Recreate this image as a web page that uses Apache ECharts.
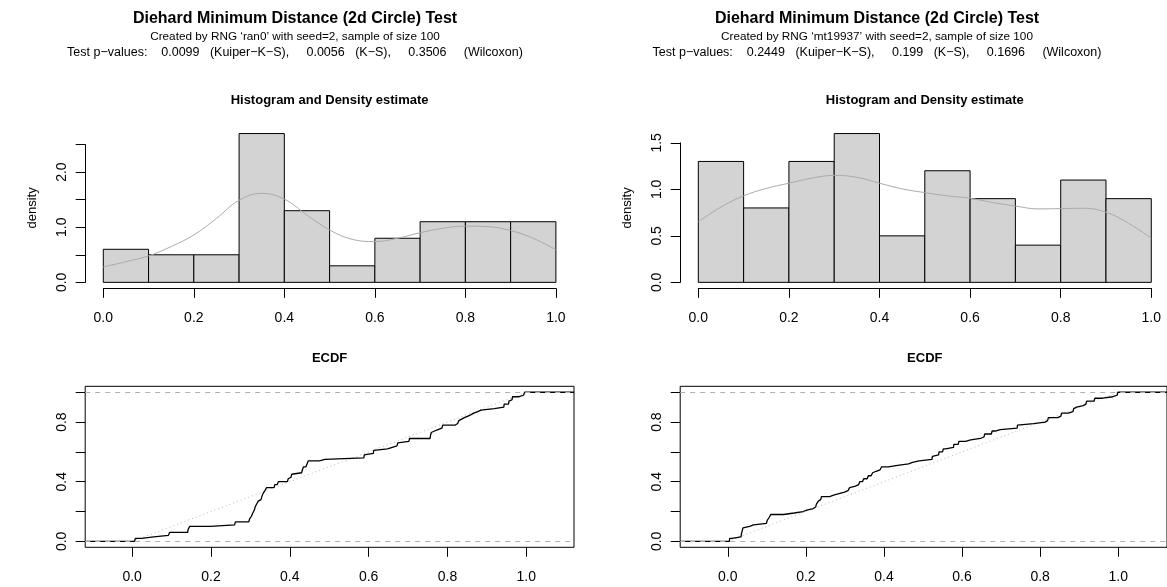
<!DOCTYPE html>
<html><head><meta charset="utf-8">
<script src="https://cdn.jsdelivr.net/npm/echarts@6/dist/echarts.min.js"></script>
<style>html,body{margin:0;padding:0;background:#fff}#c{width:1167px;height:587px}</style>
</head><body><div id="c"></div>
<script>
// ---------------- data ----------------
const binEdges = [0, 0.1, 0.2, 0.3, 0.4, 0.5, 0.6, 0.7, 0.8, 0.9, 1.0];
const histLeft = [0.6, 0.5, 0.5, 2.7, 1.3, 0.3, 0.8, 1.1, 1.1, 1.1];
const histRight = [1.3, 0.8, 1.3, 1.6, 0.5, 1.2, 0.9, 0.4, 1.1, 0.9];
const densityX = [0, 0.05, 0.1, 0.15, 0.2, 0.25, 0.3, 0.35, 0.4, 0.45, 0.5, 0.55, 0.6, 0.65, 0.7, 0.75, 0.8, 0.85, 0.9, 0.95, 1.0];
const densityLeft = [0.28, 0.375, 0.48, 0.65, 0.86, 1.16, 1.49, 1.615, 1.51, 1.22, 0.95, 0.78, 0.74, 0.80, 0.90, 0.98, 1.02, 1.01, 0.94, 0.80, 0.59];
const densityRight = [0.65, 0.81, 0.93, 1.01, 1.066, 1.12, 1.15, 1.13, 1.066, 1.005, 0.965, 0.93, 0.904, 0.858, 0.82, 0.79, 0.793, 0.797, 0.754, 0.635, 0.474];
const sampleLeft = [
  0.006, 0.008, 0.024, 0.055, 0.092, 0.095,
  0.141, 0.142, 0.144, 0.146, 0.199,
  0.260, 0.262, 0.296, 0.298, 0.299,
  0.303, 0.305, 0.306, 0.308, 0.310, 0.311, 0.312, 0.314, 0.316, 0.318, 0.320, 0.325,
  0.327, 0.329, 0.330, 0.332, 0.333, 0.337, 0.339, 0.341, 0.360, 0.362, 0.368, 0.371,
  0.394, 0.396, 0.398,
  0.403, 0.405, 0.406, 0.430, 0.432, 0.434, 0.435, 0.441, 0.444, 0.446, 0.447, 0.475, 0.489,
  0.588, 0.589, 0.590,
  0.612, 0.613, 0.614, 0.648, 0.660, 0.672, 0.674, 0.675,
  0.702, 0.704, 0.756, 0.757, 0.758, 0.759, 0.763, 0.767, 0.776, 0.786, 0.788,
  0.820, 0.826, 0.829, 0.831, 0.836, 0.843, 0.852, 0.860, 0.867, 0.877, 0.885,
  0.919, 0.943, 0.944, 0.955, 0.956, 0.957, 0.964, 0.965, 0.982, 0.993, 0.996
];
const sampleRight = [
  0.004, 0.005, 0.011, 0.034, 0.035, 0.036, 0.037, 0.038, 0.039, 0.042, 0.056, 0.066, 0.099,
  0.101, 0.105, 0.106, 0.107, 0.110, 0.143, 0.170, 0.193,
  0.202, 0.219, 0.225, 0.227, 0.230, 0.232, 0.236, 0.238, 0.240, 0.261, 0.271, 0.285, 0.299,
  0.308, 0.312, 0.317, 0.327, 0.335, 0.338, 0.345, 0.348, 0.357, 0.360, 0.367, 0.371, 0.373, 0.380, 0.390, 0.394,
  0.411, 0.435, 0.463, 0.473, 0.490,
  0.523, 0.524, 0.525, 0.540, 0.541, 0.550, 0.552, 0.558, 0.578, 0.579, 0.590, 0.592,
  0.609, 0.622, 0.647, 0.656, 0.658, 0.675, 0.677, 0.685, 0.698,
  0.741, 0.742, 0.743, 0.783,
  0.813, 0.819, 0.821, 0.845, 0.853, 0.855, 0.872, 0.884, 0.886, 0.891, 0.893,
  0.910, 0.917, 0.919, 0.938, 0.940, 0.960, 0.986, 0.997, 0.999
];
const uniformRef = [0, 1];
const histXTicks = [0, 0.2, 0.4, 0.6, 0.8, 1.0];
const histLeftYTicks = [0, 0.5, 1.0, 1.5, 2.0, 2.5];
const histLeftYLabels = [0, 1.0, 2.0];
const histRightYTicks = [0, 0.5, 1.0, 1.5];
const histRightYLabels = [0, 0.5, 1.0, 1.5];
const ecdfXTicks = [0, 0.2, 0.4, 0.6, 0.8, 1.0];
const ecdfYTicks = [0, 0.2, 0.4, 0.6, 0.8, 1.0];
const ecdfYLabels = [0, 0.4, 0.8];

const mainTitle = 'Diehard Minimum Distance (2d Circle) Test';
const subLeft = 'Created by RNG \u2018ran0\u2019 with seed=2, sample of size 100';
const subRight = 'Created by RNG \u2018mt19937\u2019 with seed=2, sample of size 100';
const pValuesLeft = ['0.0099', '0.0056', '0.3506'];
const pValuesRight = ['0.2449', '0.199', '0.1696'];
const testNames = ['(Kuiper\u2212K\u2212S),', '(K\u2212S),', '(Wilcoxon)'];
const histTitle = 'Histogram and Density estimate';
const ecdfTitle = 'ECDF';
const yName = 'density';

function pLine(p) {
  const sp = function (k) { return new Array(k + 1).join(' '); };
  return 'Test p\u2212values:' + sp(4) + p[0] + sp(3) + testNames[0] + sp(5) + p[1] + sp(3) + testNames[1] +
    sp(5) + p[2] + sp(5) + testNames[2];
}

// ---------------- layout ----------------
const FONT = "'Liberation Sans', Arial, Helvetica, sans-serif";
const panels = [
  {x0: 85.2, w: 488.8, hist: histLeft, dens: densityLeft, sample: sampleLeft, yTicks: histLeftYTicks, yLabels: histLeftYLabels,
   titleX: 295, sub: subLeft, p: pLine(pValuesLeft)},
  {x0: 680.2, w: 489.2, hist: histRight, dens: densityRight, sample: sampleRight, yTicks: histRightYTicks, yLabels: histRightYLabels,
   titleX: 877, sub: subRight, p: pLine(pValuesRight)}
];
const HIST_TOP = 127.6, HIST_H = 160.7;
const ECDF_TOP = 386.3, ECDF_H = 161;
const TICK_LEN = 9.5;

const grids = [], xAxes = [], yAxes = [], series = [], graphics = [];
function txt(x, y, text, font, rot) {
  return {type: 'text', x: x, y: y, rotation: rot || 0, silent: true, z: 10,
    style: {text: text, font: font, fill: '#000', textAlign: 'center', textVerticalAlign: 'middle', align: 'center', verticalAlign: 'middle'}};
}
const axisCommon = {
  axisLine: {show: true, onZero: false, lineStyle: {color: '#000', width: 1}},
  axisTick: {show: true, inside: false, length: TICK_LEN, lineStyle: {color: '#000', width: 1}},
  splitLine: {show: false},
  axisLabel: {color: '#000', fontFamily: FONT, fontSize: 14}
};
function fmt(v) { return Number(v).toFixed(1); }

panels.forEach(function (P, k) {
  // ----- histogram panel -----
  const ymax = Math.max.apply(null, P.hist);
  const ytop = P.yTicks[P.yTicks.length - 1];
  const ppx = P.w / 1.08, ppy = HIST_H / (1.08 * ymax);
  const gLeft = P.x0 + 0.04 * ppx;
  const gBottom = HIST_TOP + HIST_H - 0.04 * ymax * ppy;
  const gi = grids.length;
  grids.push({left: gLeft, top: gBottom - ytop * ppy, width: ppx, height: ytop * ppy, containLabel: false});
  xAxes.push(Object.assign({}, axisCommon, {
    gridIndex: gi, type: 'value', min: binEdges[0], max: binEdges[binEdges.length - 1], interval: 0.2,
    position: 'bottom', offset: 0.04 * ymax * ppy,
    axisLabel: Object.assign({}, axisCommon.axisLabel, {margin: 23, formatter: fmt, customValues: histXTicks}),
    axisTick: Object.assign({}, axisCommon.axisTick, {customValues: histXTicks})
  }));
  yAxes.push(Object.assign({}, axisCommon, {
    gridIndex: gi, type: 'value', min: 0, max: ytop, interval: 0.5,
    position: 'left', offset: 0.04 * ppx,
    axisTick: Object.assign({}, axisCommon.axisTick, {customValues: P.yTicks}),
    axisLabel: Object.assign({}, axisCommon.axisLabel, {margin: 16, rotate: 90, formatter: fmt, customValues: P.yLabels})
  }));
  const bars = P.hist.map(function (h, i) { return [binEdges[i], binEdges[i + 1], h]; });
  series.push({
    type: 'custom', xAxisIndex: gi, yAxisIndex: gi, clip: false, silent: true, z: 2,
    data: bars, encode: {x: [0, 1], y: 2},
    renderItem: function (params, api) {
      const a = api.coord([api.value(0), 0]);
      const b = api.coord([api.value(1), api.value(2)]);
      return {type: 'rect', shape: {x: a[0], y: b[1], width: b[0] - a[0], height: a[1] - b[1]},
        style: {fill: '#d3d3d3', stroke: '#000', lineWidth: 1}};
    }
  });
  series.push({
    type: 'line', xAxisIndex: gi, yAxisIndex: gi, clip: false, silent: true, z: 3,
    smooth: 0.4, symbol: 'none', data: densityX.map(function (x, i) { return [x, P.dens[i]]; }),
    lineStyle: {color: '#ababab', width: 1}
  });

  // ----- ECDF panel -----
  const s = P.sample.slice().sort(function (a, b) { return a - b; });
  const n = s.length;
  const diffs = [];
  for (let i = 1; i < n; i++) diffs.push(s[i] - s[i - 1]);
  diffs.sort(function (a, b) { return a - b; });
  const med = diffs.length % 2 ? diffs[(diffs.length - 1) / 2] : (diffs[diffs.length / 2 - 1] + diffs[diffs.length / 2]) / 2;
  const dr = Math.max(0.08 * (s[n - 1] - s[0]), med);
  let lo = s[0] - dr, hi = s[n - 1] + dr;
  const ext = 0.04 * (hi - lo);
  lo -= ext; hi += ext;
  const ei = grids.length;
  grids.push({left: P.x0, top: ECDF_TOP, width: P.w, height: ECDF_H, show: true, borderColor: '#000', borderWidth: 1,
    backgroundColor: 'transparent', containLabel: false});
  xAxes.push(Object.assign({}, axisCommon, {
    gridIndex: ei, type: 'value', min: lo, max: hi, position: 'bottom',
    axisLine: {show: false, onZero: false},
    axisTick: Object.assign({}, axisCommon.axisTick, {customValues: ecdfXTicks}),
    axisLabel: Object.assign({}, axisCommon.axisLabel, {margin: 23, formatter: fmt, customValues: ecdfXTicks})
  }));
  yAxes.push(Object.assign({}, axisCommon, {
    gridIndex: ei, type: 'value', min: -0.04, max: 1.04, position: 'left',
    axisLine: {show: false, onZero: false},
    axisTick: Object.assign({}, axisCommon.axisTick, {customValues: ecdfYTicks}),
    axisLabel: Object.assign({}, axisCommon.axisLabel, {margin: 16, rotate: 90, formatter: fmt, customValues: ecdfYLabels})
  }));
  const steps = [[lo, 0]].concat(s.map(function (v, i) { return [v, (i + 1) / n]; })).concat([[hi, 1]]);
  series.push({
    type: 'line', xAxisIndex: ei, yAxisIndex: ei, silent: true, z: 4, step: 'end', symbol: 'none',
    data: steps, lineStyle: {color: '#000', width: 1.3},
    markLine: {silent: true, symbol: 'none', label: {show: false},
      lineStyle: {type: [5, 5], color: '#b0b0b0', width: 1},
      data: [{yAxis: 0}, {yAxis: 1}]}
  });
  series.push({
    type: 'line', xAxisIndex: ei, yAxisIndex: ei, silent: true, z: 3, symbol: 'none',
    data: uniformRef.map(function (v) { return [v, v]; }),
    lineStyle: {color: '#b8b8b8', width: 1, type: [1, 3]}
  });

  // ----- texts -----
  graphics.push(txt(P.titleX, 18.5, mainTitle, 'bold 16px ' + FONT));
  graphics.push(txt(P.titleX, 37, P.sub, '11.75px ' + FONT));
  graphics.push(txt(P.titleX, 53, P.p, '12.5px ' + FONT));
  const cx = P.x0 + P.w / 2;
  graphics.push(txt(cx, 100, histTitle, 'bold 13px ' + FONT));
  graphics.push(txt(cx, 358.5, ecdfTitle, 'bold 13px ' + FONT));
  graphics.push(txt(P.x0 - 53, HIST_TOP + HIST_H / 2, yName, '13px ' + FONT, Math.PI / 2));
});

const chart = echarts.init(document.getElementById('c'), null, {renderer: 'canvas'});
chart.setOption({
  animation: false,
  backgroundColor: '#fff',
  grid: grids, xAxis: xAxes, yAxis: yAxes, series: series,
  graphic: {elements: graphics}
});
</script></body></html>
